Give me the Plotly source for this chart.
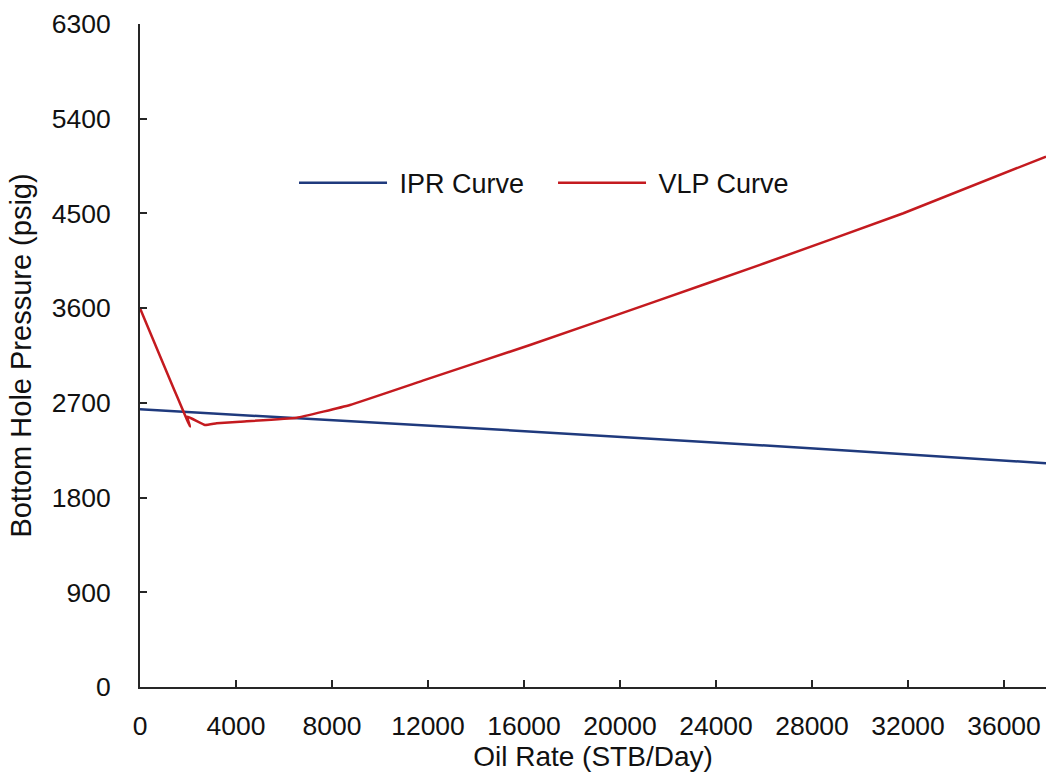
import plotly.graph_objects as go

# IPR curve (STB/Day vs psig)
ipr_rate = [0, 6667, 17083, 29583, 37750]
ipr_pwf = [2639, 2554, 2417, 2246, 2126]

# VLP curve
vlp_rate = [0, 2083, 1971, 2708, 3194, 4167, 6529, 8750, 11875, 16250,
            21458, 25833, 31806, 37750]
vlp_pwf = [3600, 2474, 2569, 2490, 2506, 2521, 2559, 2680, 2918, 3250,
           3662, 4011, 4502, 5040]

x_ticks = [0, 4000, 8000, 12000, 16000, 20000, 24000, 28000, 32000, 36000]
x_labels = [str(v) for v in x_ticks]
y_ticks = [0, 900, 1800, 2700, 3600, 4500, 5400, 6300]
y_labels = [str(v) for v in y_ticks]

FONT = "Liberation Sans, Arial, sans-serif"
AX = "#262626"

fig = go.Figure()
fig.add_trace(go.Scatter(x=ipr_rate, y=ipr_pwf, mode="lines", name="\u00a0IPR Curve",
                         line=dict(color="#1F3A7D", width=2.5)))
fig.add_trace(go.Scatter(x=vlp_rate, y=vlp_pwf, mode="lines", name="\u00a0VLP Curve",
                         line=dict(color="#C41A1F", width=2.5, shape="spline",
                                   smoothing=0.3)))

fig.update_layout(
    width=1046, height=778,
    margin=dict(l=140, r=0, t=24, b=91),
    paper_bgcolor="white", plot_bgcolor="white",
    font=dict(family=FONT, size=26, color="#111111"),
    showlegend=True,
    legend=dict(orientation="h", x=0.17, y=0.760, xanchor="left", yanchor="middle",
                font=dict(size=27), itemwidth=88, bgcolor="rgba(0,0,0,0)",
                entrywidth=156, entrywidthmode="pixels", tracegroupgap=0),
    xaxis=dict(range=[0, 37750], tickvals=x_ticks, ticktext=x_labels,
               ticks="inside", ticklen=7,
               tickwidth=2, tickcolor=AX, showline=True, linecolor=AX, linewidth=2,
               showgrid=False, zeroline=False, ticklabelstandoff=14,
               tickfont=dict(size=26.5),
               title=dict(text="Oil Rate (STB/Day)", font=dict(size=28), standoff=4)),
    yaxis=dict(range=[0, 6300], tickvals=y_ticks, ticktext=y_labels,
               ticks="inside", ticklen=7,
               tickwidth=2, tickcolor=AX, showline=True, linecolor=AX, linewidth=2,
               showgrid=False, zeroline=False, ticklabelstandoff=22,
               tickfont=dict(size=26.5),
               title=dict(text="Bottom Hole Pressure (psig)", font=dict(size=29),
                          standoff=12)),
)

fig.write_html("out.html")
